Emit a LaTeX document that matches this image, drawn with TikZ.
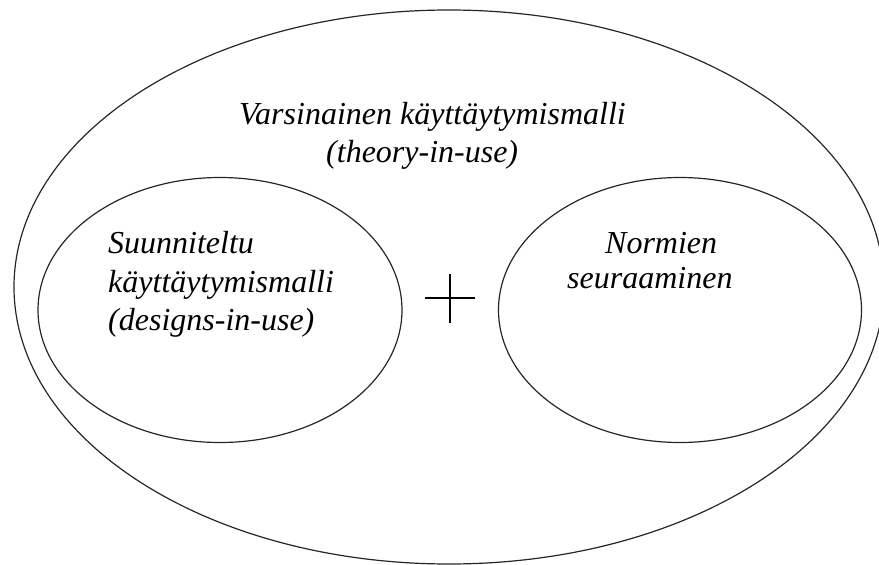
\documentclass[tikz,border=0pt]{standalone}
\usepackage{fontspec}
\setmainfont{Liberation Serif}[ItalicFont={Liberation Serif Italic}]
\usetikzlibrary{shapes.geometric}
\begin{document}
\begin{tikzpicture}[x=1pt,y=-1pt,
  lbl/.style={font=\fontsize{32}{38}\selectfont\itshape, inner sep=0pt, anchor=base west},
  ring/.style={draw=black!85, line width=1.2pt, ellipse, inner sep=0pt}]
\useasboundingbox (0,0) rectangle (879,565);
\node[ring, minimum width=870, minimum height=554] (outer) at (449,287) {};
\node[ring, minimum width=364, minimum height=265] (left) at (220,310) {};
\node[ring, minimum width=363, minimum height=265] (right) at (680,310) {};
\coordinate (plus) at (450,298);
\draw[line width=1.3pt] ([xshift=-25pt]plus) -- ([xshift=25pt]plus);
\draw[line width=1.3pt] ([yshift=24pt]plus) -- ([yshift=-25pt]plus);
\node[lbl] (t1) at (239,124) {Varsinainen käyttäytymismalli};
\node[lbl] (t2) at (326,162) {(theory-in-use)};
\node[lbl] (s1) at (108,253) {Suunniteltu};
\node[lbl] (s2) at (108,292) {käyttäytymismalli};
\node[lbl] (s3) at (108,330) {(designs-in-use)};
\node[lbl] (n1) at (605,253) {Normien};
\node[lbl] (n2) at (567,288) {seuraaminen};
\end{tikzpicture}
\end{document}
